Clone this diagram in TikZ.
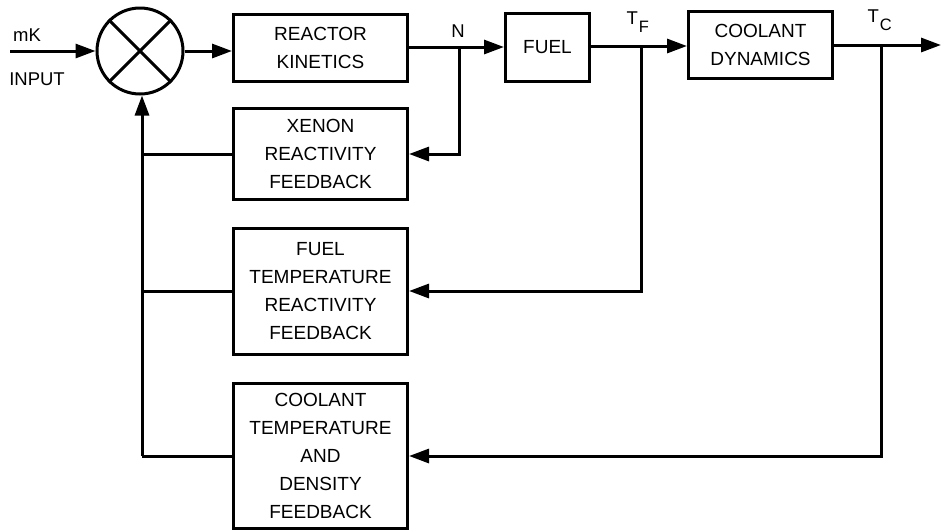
\documentclass[tikz,border=0pt]{standalone}
\usepackage{fontspec}
\setmainfont{Liberation Sans}
\usetikzlibrary{arrows.meta}
\begin{document}
\begin{tikzpicture}[x=1pt,y=-1pt,line width=3pt,
  >={Triangle[length=20pt,width=14pt]},
  blk/.style={draw,rectangle,inner sep=0pt,align=center,font=\fontsize{19}{28}\selectfont},
  lbl/.style={inner sep=0pt,font=\fontsize{18.5}{20}\selectfont},
  sumj/.style={draw,circle,minimum size=86pt,inner sep=0pt}]
\useasboundingbox (0,0) rectangle (942,531);
% summing junction
\node[sumj] (sum) at (140,51) {};
\draw (sum.north west) -- (sum.south east);
\draw (sum.north east) -- (sum.south west);
% forward blocks
\node[blk,minimum width=174pt,minimum height=67pt] (rk) at (320.5,48) {REACTOR\\KINETICS};
\node[blk,minimum width=84pt,minimum height=68pt] (fuel) at (547.5,47) {FUEL};
\node[blk,minimum width=144pt,minimum height=67pt] (cd) at (760.5,45) {COOLANT\\DYNAMICS};
% feedback blocks
\node[blk,minimum width=174pt,minimum height=91pt] (xr) at (320.5,154) {XENON\\REACTIVITY\\FEEDBACK};
\node[blk,minimum width=174pt,minimum height=126pt] (ftr) at (320.5,291) {FUEL\\TEMPERATURE\\REACTIVITY\\FEEDBACK};
\node[blk,minimum width=174pt,minimum height=145pt] (ctd) at (320.5,456) {COOLANT\\TEMPERATURE\\AND\\DENSITY\\FEEDBACK};
% labels
\node[lbl] (mk) at (27,35) {mK};
\node[lbl] (inp) at (37,79) {INPUT};
\node[lbl] (nl) at (458,31) {N};
\node[lbl,anchor=base west] (tf) at (625,24) {T\kern1pt\raisebox{-8pt}{\fontsize{16.5}{16}\selectfont F}};
\node[lbl,anchor=base west] (tc) at (866,22) {T\kern1pt\raisebox{-8pt}{\fontsize{16.5}{16}\selectfont C}};
% coordinates
\coordinate (in) at (10,51);
\coordinate (nb) at (459,47);
\coordinate (tfb) at (641,46);
\coordinate (tcb) at (881,45);
\coordinate (out) at (941,45);
\coordinate (lb) at (142,456);
% forward path
\draw[->] (in) -- (sum.west);
\draw[->] (sum.east) -- (sum.east -| rk.west);
\draw[->] (rk.east |- nb) -- (fuel.west |- nb);
\draw[->] (fuel.east |- tfb) -- (cd.west |- tfb);
\draw[->] (cd.east) -- (out);
% feedback taps
\draw[->] (nb) |- (xr.east);
\draw[->] (tfb) |- (ftr.east);
\draw[->] (tcb) |- (ctd.east);
% return paths
\draw (ctd.west) -- (lb);
\draw[->] (lb) -- (lb |- sum.south);
\draw (xr.west) -- (xr.west -| lb);
\draw (ftr.west) -- (ftr.west -| lb);
\end{tikzpicture}
\end{document}
